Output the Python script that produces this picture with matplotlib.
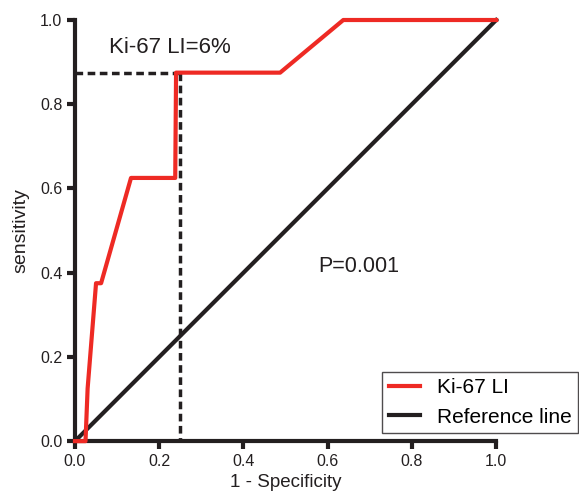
import matplotlib.pyplot as plt
import numpy as np

plt.rcParams['font.family'] = ['Liberation Sans', 'DejaVu Sans']

# ROC curve points (1 - specificity, sensitivity)
fpr = [0.0, 0.025, 0.03, 0.04, 0.05, 0.062, 0.133, 0.238, 0.24, 0.487, 0.637, 1.0]
tpr = [0.0, 0.0, 0.125, 0.25, 0.375, 0.375, 0.625, 0.625, 0.875, 0.875, 1.0, 1.0]
ref_x = [0.0, 1.0]
ref_y = [0.0, 1.0]
cut_x = 0.25
cut_y = 0.875

dark = '#231f20'

fig = plt.figure(figsize=(5.79, 4.94), dpi=100)
ax = fig.add_axes([0.1295, 0.107, 0.7275, 0.8525])

ax.plot(fpr, tpr, color='#ee2a24', linewidth=3, label='Ki-67 LI', clip_on=False, zorder=3)
ax.plot(ref_x, ref_y, color=dark, linewidth=3, label='Reference line', clip_on=False, zorder=2)
dash = (0, (2.2, 1.3))
ax.plot([0, cut_x], [cut_y, cut_y], color=dark, linewidth=2.5, linestyle=dash, zorder=2)
ax.plot([cut_x, cut_x], [cut_y, 0], color=dark, linewidth=2.5, linestyle=dash, zorder=2)

ax.text(0.08, 0.935, 'Ki-67 LI=6%', fontsize=16, color=dark, va='center')
ax.text(0.578, 0.415, 'P=0.001', fontsize=15.5, color=dark, va='center')

ax.set_xlim(0, 1)
ax.set_ylim(0, 1)
ax.set_xticks(np.arange(0, 1.01, 0.2))
ax.set_yticks(np.arange(0, 1.01, 0.2))
ax.set_xticklabels(['0.0', '0.2', '0.4', '0.6', '0.8', '1.0'])
ax.set_yticklabels(['0.0', '0.2', '0.4', '0.6', '0.8', '1.0'])

for s in ['top', 'right']:
    ax.spines[s].set_visible(False)
for s in ['left', 'bottom']:
    ax.spines[s].set_linewidth(3)
    ax.spines[s].set_color(dark)
ax.tick_params(width=3, length=6, labelsize=11.5, color=dark, labelcolor=dark, pad=3)

ax.set_xlabel('1 - Specificity', fontsize=13.5, color=dark, labelpad=4)
ax.set_ylabel('sensitivity', fontsize=14, color=dark, labelpad=8)

leg = ax.legend(loc='lower left', bbox_to_anchor=(0.705, -0.005), fontsize=15,
                frameon=True, fancybox=False, edgecolor=dark,
                handlelength=1.5, handletextpad=0.8, borderpad=0.3, labelspacing=0.5)
leg.get_frame().set_linewidth(1)

plt.savefig('out.png', dpi=100)
